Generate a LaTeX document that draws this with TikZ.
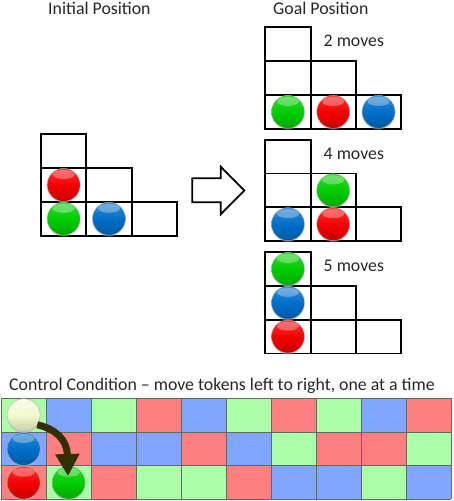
\documentclass[tikz,border=0pt]{standalone}
\usepackage{fontspec}
\setmainfont{Carlito}
\usetikzlibrary{arrows.meta}
\definecolor{cG}{RGB}{170,255,168}
\definecolor{cB}{RGB}{128,166,255}
\definecolor{cR}{RGB}{255,128,128}
\definecolor{tokR}{RGB}{245,0,0}
\definecolor{tokG}{RGB}{0,205,0}
\definecolor{tokB}{RGB}{0,110,200}
\definecolor{tokP}{RGB}{242,250,205}
\definecolor{arrC}{RGB}{52,46,4}
\tikzset{
  gridline/.style={draw=black,line width=1.8pt},
  ctrlline/.style={draw=black!60,line width=0.6pt},
  tokstyle/.style={circle,minimum size=33pt,inner sep=0pt,draw=black!30,line width=0.4pt},
  lbl/.style={anchor=base west,inner sep=0pt,font=\fontsize{17.8}{20}\selectfont,text=black!85},
  curarrow/.style={draw=arrC,line width=7pt,-{Triangle[width=23pt,length=22pt]}},
}
% cell: top-left x, y
\newcommand\sqcell[2]{\draw[gridline] (#1,#2) rectangle ++(45.3,33.8);}
% token: name, col-left x, row-top y, color
\newcommand\tokn[4]{%
  \fill[black!30,opacity=0.45] (#2+22.65,#3+18.2) circle (16.5);
  \node[tokstyle,top color=#4!78!white,bottom color=#4!82!black,middle color=#4] (#1) at (#2+22.65,#3+16.9) {};
  \fill[white,opacity=0.3] (#2+22.65,#3+6.5) ellipse (11 and 4.5);
}
\begin{document}
\begin{tikzpicture}[x=1pt,y=-1pt]
\useasboundingbox (0,0) rectangle (454,501);
% titles
\node[lbl] (tInit) at (48,14) {Initial Position};
\node[lbl] (tGoal) at (273,14) {Goal Position};
% ---- initial grid
\sqcell{41}{134.2}
\sqcell{41}{168}
\sqcell{86.3}{168}
\sqcell{41}{201.8}
\sqcell{86.3}{201.8}
\sqcell{131.6}{201.8}
\tokn{iR}{41}{168}{tokR}
\tokn{iG}{41}{201.8}{tokG}
\tokn{iB}{86.3}{201.8}{tokB}
% ---- block arrow
\draw[line width=1.8pt,fill=white] (192.3,178.3) -- (220.7,178.3) -- (220.7,166.7) -- (244.3,190.5) -- (220.7,214.3) -- (220.7,202.3) -- (192.3,202.3) -- cycle;
% ---- goal 1
\sqcell{265.3}{27.3}
\sqcell{265.3}{61.1}
\sqcell{310.6}{61.1}
\sqcell{265.3}{94.9}
\sqcell{310.6}{94.9}
\sqcell{355.9}{94.9}
\tokn{aG}{265.3}{94.9}{tokG}
\tokn{aR}{310.6}{94.9}{tokR}
\tokn{aB}{355.9}{94.9}{tokB}
\node[lbl] (m2) at (323.5,46.7) {2 moves};
% ---- goal 2
\sqcell{265.3}{139.6}
\sqcell{265.3}{173.4}
\sqcell{310.6}{173.4}
\sqcell{265.3}{207.2}
\sqcell{310.6}{207.2}
\sqcell{355.9}{207.2}
\tokn{bG}{310.6}{173.4}{tokG}
\tokn{bB}{265.3}{207.2}{tokB}
\tokn{bR}{310.6}{207.2}{tokR}
\node[lbl] (m4) at (323.5,159.3) {4 moves};
% ---- goal 3
\sqcell{265.3}{252}
\sqcell{265.3}{285.8}
\sqcell{310.6}{285.8}
\sqcell{265.3}{319.6}
\sqcell{310.6}{319.6}
\sqcell{355.9}{319.6}
\tokn{cG}{265.3}{252}{tokG}
\tokn{cB}{265.3}{285.8}{tokB}
\tokn{cR}{265.3}{319.6}{tokR}
\node[lbl] (m5) at (323.5,271.7) {5 moves};
% ---- control condition
\node[lbl] (tCtrl) at (9,390) {Control Condition – move tokens left to right, one at a time};
\foreach \c [count=\i from 0] in {G,B,G,R,B,G,R,G,B,R}
  \fill[c\c] (1+45*\i,398.3) rectangle ++(45,33.7);
\foreach \c [count=\i from 0] in {B,R,B,B,R,B,G,R,R,G}
  \fill[c\c] (1+45*\i,432) rectangle ++(45,33.7);
\foreach \c [count=\i from 0] in {R,G,R,G,G,R,B,B,G,B}
  \fill[c\c] (1+45*\i,465.7) rectangle ++(45,33.7);
\foreach \i in {0,...,10} \draw[ctrlline] (1+45*\i,398.3) -- (1+45*\i,499.4);
\foreach \y in {398.3,432,465.7,499.4} \draw[ctrlline] (1,\y) -- (451,\y);
\tokn{pW}{1}{398.3}{tokP}
\tokn{pB}{1}{432}{tokB}
\tokn{pR}{1}{465.7}{tokR}
\tokn{pG}{46}{465.7}{tokG}
\coordinate (tipEnd) at (68,476);
\draw[curarrow] (pW.-35) .. controls (56,429) and (67,440) .. (tipEnd);
\end{tikzpicture}
\end{document}
